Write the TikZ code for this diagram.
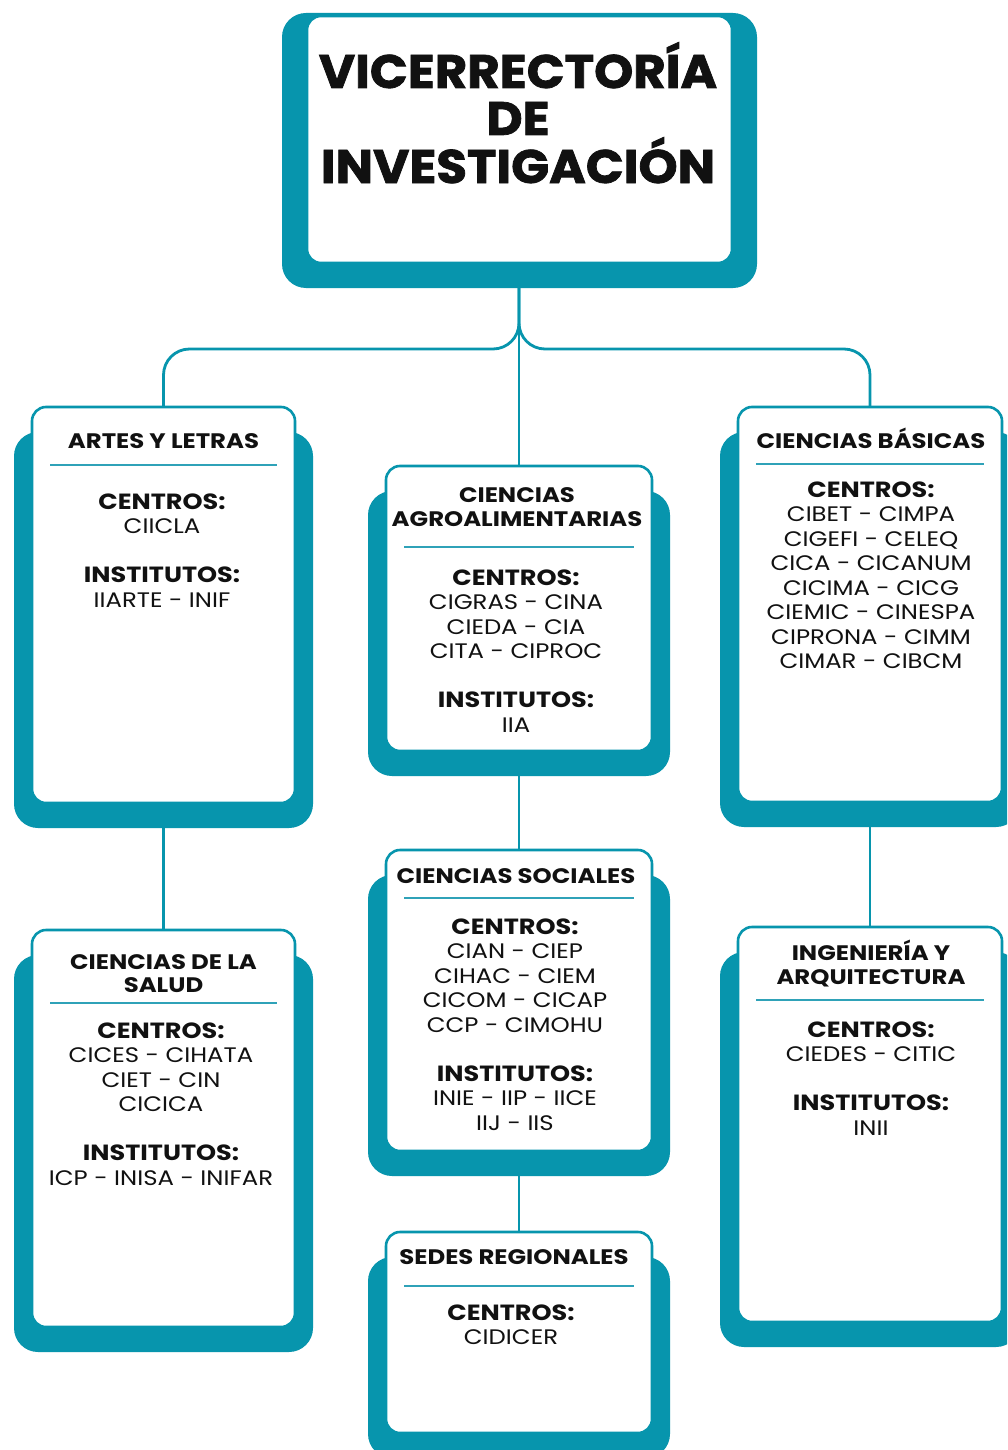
\documentclass[tikz,border=0pt]{standalone}
\usepackage{fontspec}
\setmainfont{Poppins}[FakeStretch=1.16]
\newfontfamily\titlefont{Poppins}[FakeStretch=1.06, BoldFeatures={FakeBold=1.6}]
\usetikzlibrary{calc}
\definecolor{tealA}{HTML}{0795AD}
\definecolor{tealB}{HTML}{2FA2B8}
\definecolor{ink}{HTML}{111111}
\pgfdeclarelayer{paper}
\pgfdeclarelayer{bg}
\pgfsetlayers{paper,bg,main}
\newcommand\hd{\fontsize{22}{24.5}\selectfont\bfseries}
\tikzset{
  back/.style={fill=tealA, rounded corners=24pt},
  card/.style={draw=tealA, line width=2.6pt, fill=white, rounded corners=14pt, inner sep=0, outer sep=0},
  sep/.style={draw=tealB, line width=1.6pt},
  conn/.style={draw=tealA, line width=2.8pt},
  head/.style={font=\fontsize{21}{24}\selectfont\bfseries, text=ink, inner sep=0, anchor=base},
  body/.style={font=\fontsize{21}{24.5}\selectfont, text=ink, inner sep=0, anchor=base},
  big/.style={font=\titlefont\fontsize{47}{48}\selectfont\bfseries, text=ink, inner sep=0, anchor=base},
}
% name, x1, y1, x2, y2, separator y
\newcommand\orgbox[6]{%
  \fill[back] (#2-18,#3+25) rectangle (#4+18,#5+25);
  \node[card, minimum width={#4-#2}, minimum height={#5-#3}, anchor=north west] (#1) at (#2,#3) {};
  \draw[sep] (#2+18,#6) -- (#4-18,#6);
}
% name prefix, x, first centre y, list of lines
\newcommand\bodylines[4]{%
  \foreach [count=\i] \t in {#4} {\node[body] (#1\i) at (#2, {#3+8+24.5*(\i-1)}) {\t};}
}
\begin{document}
\begin{tikzpicture}[x=1pt, y=-1pt]
\clip (0,0) rectangle (1007,1450);
\begin{pgfonlayer}{paper}
\fill[white] (0,0) rectangle (1007,1450);
\end{pgfonlayer}

% top box
\fill[back] (282,13) rectangle (757,288);
\node[card, minimum width=425, minimum height=247, anchor=north west] (vr) at (307,16) {};
\node[big] (vr1) at (518,88) {VICERRECTORÍA};
\node[big] (vr2) at (518,135) {DE};
\node[big] (vr3) at (518,183) {INVESTIGACIÓN};

% boxes
\orgbox{al}{32}{407}{295}{803}{465}
\orgbox{sal}{32}{930}{295}{1327}{1003}
\orgbox{ag}{386}{466}{652}{751}{547}
\orgbox{so}{386}{850}{652}{1151}{898}
\orgbox{se}{386}{1232}{652}{1433}{1286}
\orgbox{cb}{738}{407}{1002}{802}{464}
\orgbox{ia}{738}{927}{1002}{1322}{1000}

% headings
\node[head] (alh) at (163.5,448.5) {ARTES Y LETRAS};
\node[head] (salh1) at (163.5,969.5) {CIENCIAS DE LA};
\node[head] (salh2) at (163.5,992.5) {SALUD};
\node[head] (agh1) at (517,502.5) {CIENCIAS};
\node[head] (agh2) at (517,526.5) {AGROALIMENTARIAS};
\node[head] (soh) at (516,883.5) {CIENCIAS SOCIALES};
\node[head] (seh) at (514,1264.5) {SEDES REGIONALES};
\node[head] (cbh) at (871,448.5) {CIENCIAS BÁSICAS};
\node[head] (iah1) at (871,960.5) {INGENIERÍA Y};
\node[head] (iah2) at (871,984.5) {ARQUITECTURA};

% bodies
\bodylines{alb}{162}{501}{\hd CENTROS:, CIICLA, , \hd INSTITUTOS:, IIARTE - INIF}
\bodylines{salb}{161}{1030}{\hd CENTROS:, CICES - CIHATA, CIET - CIN, CICICA, , \hd INSTITUTOS:, ICP - INISA - INIFAR}
\bodylines{agb}{516}{577}{\hd CENTROS:, CIGRAS - CINA, CIEDA - CIA, CITA - CIPROC, , \hd INSTITUTOS:, IIA}
\bodylines{sob}{515}{926}{\hd CENTROS:, CIAN - CIEP, CIHAC - CIEM, CICOM - CICAP, CCP - CIMOHU, , \hd INSTITUTOS:, INIE - IIP - IICE, IIJ - IIS}
\bodylines{seb}{511}{1312}{\hd CENTROS:, CIDICER}
\bodylines{cbb}{871}{489}{\hd CENTROS:, CIBET - CIMPA, CIGEFI - CELEQ, CICA - CICANUM, CICIMA - CICG, CIEMIC - CINESPA, CIPRONA - CIMM, CIMAR - CIBCM}
\bodylines{iab}{871}{1029}{\hd CENTROS:, CIEDES - CITIC, , \hd INSTITUTOS:, INII}

% connectors
\begin{pgfonlayer}{bg}
\coordinate (split) at (519,349);
\draw[conn] (vr.south -| ag.north) -- (ag.north);
\draw[conn, rounded corners=26pt] (al.north) |- (split) -- (vr.south -| split);
\draw[conn, rounded corners=26pt] (cb.north) |- (split) -- (vr.south -| split);
\draw[conn] (al.south) -- (sal.north);
\draw[conn] (cb.south) -- (ia.north);
\draw[conn] (ag.south) -- (so.north);
\draw[conn] (so.south) -- (se.north);
\end{pgfonlayer}
\end{tikzpicture}
\end{document}
